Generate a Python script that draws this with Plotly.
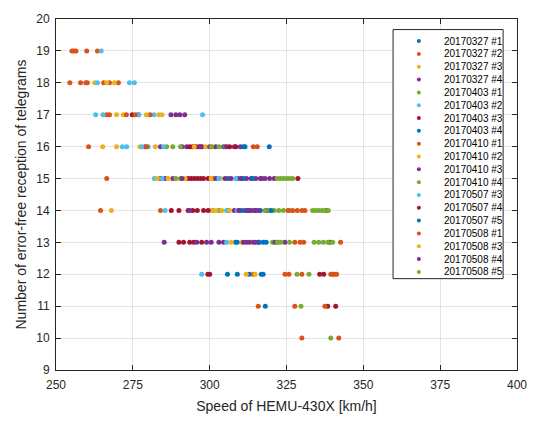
import plotly.graph_objects as go

# ---- data (speed km/h, number of error-free receptions) ----
names = ["20170327 #1", "20170327 #2", "20170327 #3", "20170327 #4",
         "20170403 #1", "20170403 #2", "20170403 #3", "20170403 #4",
         "20170410 #1", "20170410 #2", "20170410 #3", "20170410 #4",
         "20170507 #3", "20170507 #4", "20170507 #5",
         "20170508 #1", "20170508 #3", "20170508 #4", "20170508 #5"]

colors = ["#0072BD", "#D95319", "#EDB120", "#7E2F8E",
          "#77AC30", "#4DBEEE", "#A2142F", "#0072BD",
          "#D95319", "#EDB120", "#7E2F8E", "#77AC30",
          "#4DBEEE", "#A2142F", "#0072BD",
          "#D95319", "#EDB120", "#7E2F8E", "#77AC30"]

x_0327_1 = [311.5, 312.0, 315.0, 316.0]
y_0327_1 = [16, 14, 14, 13]

x_0327_2 = [255.2, 255.8, 256.5, 260.0, 263.5,
            254.5, 258.0, 259.7, 260.2, 265.5, 267.4, 270.3,
            266.5, 267.4, 260.6, 266.5, 264.5]
y_0327_2 = [19, 19, 19, 19, 19,
            18, 18, 18, 18, 18, 18, 18,
            17, 17, 16, 15, 14]

x_0327_3 = [262.6, 266.5, 269.0, 269.7, 271.9, 265.2, 269.7, 277.3, 268.0]
y_0327_3 = [18, 18, 18, 17, 17, 16, 16, 16, 14]

x_0327_4 = [276.8, 287.4, 289.0, 290.3, 291.9, 279.0, 284.0, 291.0, 292.5,
            284.0, 285.5, 288.0]
y_0327_4 = [17, 17, 17, 17, 17, 16, 16, 16, 16,
            15, 15, 15]

x_0403_1 = [286.0, 288.0, 290.5, 289.0, 290.5, 301.0, 303.0]
y_0403_1 = [16, 16, 16, 15, 15, 14, 14]

x_0403_2 = [264.7, 263.5, 273.9, 275.5, 262.9, 265.3, 277.0, 281.9,
            271.6, 273.0, 278.0, 280.0, 282.0]
y_0403_2 = [19, 18, 18, 18, 17, 17, 17, 17,
            16, 16, 16, 16, 15]

x_0403_3 = [274.8, 293.5, 294.5, 295.5, 296.5, 297.5,
            293.0, 294.0, 295.0, 296.0, 297.0, 298.0, 299.5,
            287.5, 290.0, 293.0, 294.5, 296.0, 298.0,
            290.0, 291.5, 293.5, 294.8, 297.4]
y_0403_3 = [17, 16, 16, 16, 16, 16,
            15, 15, 15, 15, 15, 15, 15,
            14, 14, 14, 14, 14, 14,
            13, 13, 13, 13, 13]

x_0403_4 = [304.5, 306.0, 309.0, 310.0, 312.5, 315.0, 309.0, 316.0]
y_0403_4 = [16, 15, 15, 14, 14, 14, 13, 13]

x_0410_1 = [272.9, 275.8, 280.6, 279.5, 305.0, 301.0, 284.0]
y_0410_1 = [17, 17, 17, 16, 16, 15, 14]

x_0410_2 = [279.4, 283.5, 284.5, 282.3, 295.0, 298.7, 301.0,
            283.0, 286.5, 292.0, 300.5, 303.5, 300.5, 302.0, 304.0]
y_0410_2 = [17, 17, 17, 16, 16, 16, 16,
            15, 15, 15, 15, 15, 14, 14, 14]

x_0410_3 = [297.0, 300.0, 302.0, 305.5, 308.0, 310.0,
            291.0, 302.0, 305.0, 307.0, 310.5, 312.0, 313.5, 315.0, 316.5, 318.0, 319.5, 321.0,
            293.5, 306.0, 308.0, 318.5,
            285.2, 295.8, 299.0, 300.5, 303.0, 304.5]
y_0410_3 = [16, 16, 16, 16, 16, 16,
            15, 15, 15, 15, 15, 15, 15, 15, 15, 15, 15, 15,
            14, 14, 14, 14,
            13, 13, 13, 13, 13, 13]

x_0410_4 = [300.5, 303.0, 322.0, 323.0, 324.0, 325.0, 326.0, 327.0,
            318.0, 319.5, 321.0, 322.5, 324.0, 326.0, 320.5, 322.3]
y_0410_4 = [16, 16, 15, 15, 15, 15, 15, 15,
            14, 14, 14, 14, 14, 14, 13, 13]

x_0507_3 = [297.7, 285.0, 284.5, 303.0, 308.5, 285.5, 305.5, 309.0, 305.5, 297.4]
y_0507_3 = [17, 16, 15, 15, 15, 14, 14, 14, 13, 12]

x_0507_4 = [306.5, 308.5, 328.7, 299.5, 338.0, 339.0, 299.4, 300.0, 335.8, 337.1, 338.4, 341.0]
y_0507_4 = [16, 16, 15, 14, 14, 13, 12, 12, 12, 12, 11, 11]

x_0507_5 = [311.0, 319.4, 311.0, 314.0, 311.0, 313.5, 316.5, 320.0,
            308.4, 317.4, 318.4, 305.8, 309.0, 312.9, 316.8, 317.4, 318.1]
y_0507_5 = [16, 16, 15, 15, 14, 14, 14, 14,
            13, 13, 13, 12, 12, 12, 12, 12, 11]

x_0508_1 = [314.2, 315.5, 325.5, 327.0, 328.5, 330.0, 331.0,
            327.7, 329.4, 330.6, 342.6,
            314.2, 324.5, 325.8, 330.0, 339.4, 340.0, 340.6, 341.3,
            315.8, 327.7, 337.5, 330.0, 342.0]
y_0508_1 = [16, 16, 14, 14, 14, 14, 14,
            13, 13, 13, 13,
            12, 12, 12, 12, 12, 12, 12, 12,
            11, 11, 11, 10, 10]

x_0508_3 = [306.5, 307.0, 310.5, 311.9, 314.8]
y_0508_3 = [14, 13, 13, 12, 12]

x_0508_4 = [310.0, 317.0, 309.5, 312.0, 313.0, 314.5, 316.0,
            311.0, 312.0, 313.0, 314.2, 315.0, 321.3, 324.5]
y_0508_4 = [15, 15, 14, 14, 14, 14, 14,
            13, 13, 13, 13, 13, 13, 13]

x_0508_5 = [333.5, 334.5, 335.5, 336.5, 337.5, 338.6,
            322.0, 323.2, 326.0, 334.0, 335.5, 337.0, 338.5, 340.0,
            328.4, 332.3, 329.7, 339.4]
y_0508_5 = [14, 14, 14, 14, 14, 14,
            13, 13, 13, 13, 13, 13, 13, 13,
            12, 12, 11, 10]

xs = [x_0327_1, x_0327_2, x_0327_3, x_0327_4, x_0403_1, x_0403_2, x_0403_3, x_0403_4,
      x_0410_1, x_0410_2, x_0410_3, x_0410_4, x_0507_3, x_0507_4, x_0507_5,
      x_0508_1, x_0508_3, x_0508_4, x_0508_5]
ys = [y_0327_1, y_0327_2, y_0327_3, y_0327_4, y_0403_1, y_0403_2, y_0403_3, y_0403_4,
      y_0410_1, y_0410_2, y_0410_3, y_0410_4, y_0507_3, y_0507_4, y_0507_5,
      y_0508_1, y_0508_3, y_0508_4, y_0508_5]

x_ticks = [250, 275, 300, 325, 350, 375, 400]
y_ticks = list(range(9, 21))

FONT = "Arial, Liberation Sans, sans-serif"
AX = "#262626"

fig = go.Figure()
for n, c, x, y in zip(names, colors, xs, ys):
    fig.add_trace(go.Scatter(x=x, y=y, mode="markers", name=n, showlegend=False,
                             marker=dict(color=c, size=5, line=dict(width=0))))

axis_common = dict(showline=True, linecolor=AX, linewidth=1, mirror="ticks",
                   ticks="inside", ticklen=5, tickcolor=AX, showgrid=True,
                   gridcolor="#e3e3e3", gridwidth=1, zeroline=False,
                   tickfont=dict(family=FONT, size=12, color=AX))

fig.update_xaxes(range=[250, 400], tickvals=x_ticks, ticklabelstandoff=4,
                 title=dict(text="Speed of HEMU-430X [km/h]", standoff=9,
                            font=dict(family=FONT, size=14, color=AX)),
                 **axis_common)
fig.update_yaxes(range=[9, 20], tickvals=y_ticks, ticklabelstandoff=3,
                 title=dict(text="Number of error-free reception of telegrams", standoff=6,
                            font=dict(family=FONT, size=14, color=AX)),
                 **axis_common)

# ---- compact legend box (MATLAB-style), built in paper coordinates ----
W, H = 539, 423
ML, MR, MT, MB = 56, 18, 12, 46
pw, ph = W - ML - MR, H - MT - MB


def px_x(p):
    return (p - ML) / pw


def px_y(p):
    return (H - MB - p) / ph


box_l, box_r, box_t, box_b = 396, 507, 23, 282
row0, row_step = 35, (275 - 35) / (len(names) - 1)
dot_x, text_x = 422, 445

shapes = [dict(type="rect", xref="paper", yref="paper",
               x0=px_x(box_l), x1=px_x(box_r), y0=px_y(box_b), y1=px_y(box_t),
               fillcolor="white", line=dict(color=AX, width=1), layer="above")]
annotations = []
for i, (n, c) in enumerate(zip(names, colors)):
    yy = px_y(row0 + i * row_step)
    shapes.append(dict(type="circle", xref="paper", yref="paper",
                       xsizemode="pixel", ysizemode="pixel",
                       xanchor=px_x(dot_x), yanchor=yy,
                       x0=-2, x1=2, y0=-2, y1=2,
                       fillcolor=c, line=dict(width=0), layer="above"))
    annotations.append(dict(text=n, xref="paper", yref="paper",
                            x=px_x(text_x), y=yy, xanchor="left", yanchor="middle",
                            showarrow=False,
                            font=dict(family=FONT, size=10, color="#000000")))

fig.update_layout(
    width=W, height=H,
    margin=dict(l=ML, r=MR, t=MT, b=MB),
    plot_bgcolor="white", paper_bgcolor="white",
    showlegend=False,
    shapes=shapes, annotations=annotations,
)

fig.write_html("out.html")
